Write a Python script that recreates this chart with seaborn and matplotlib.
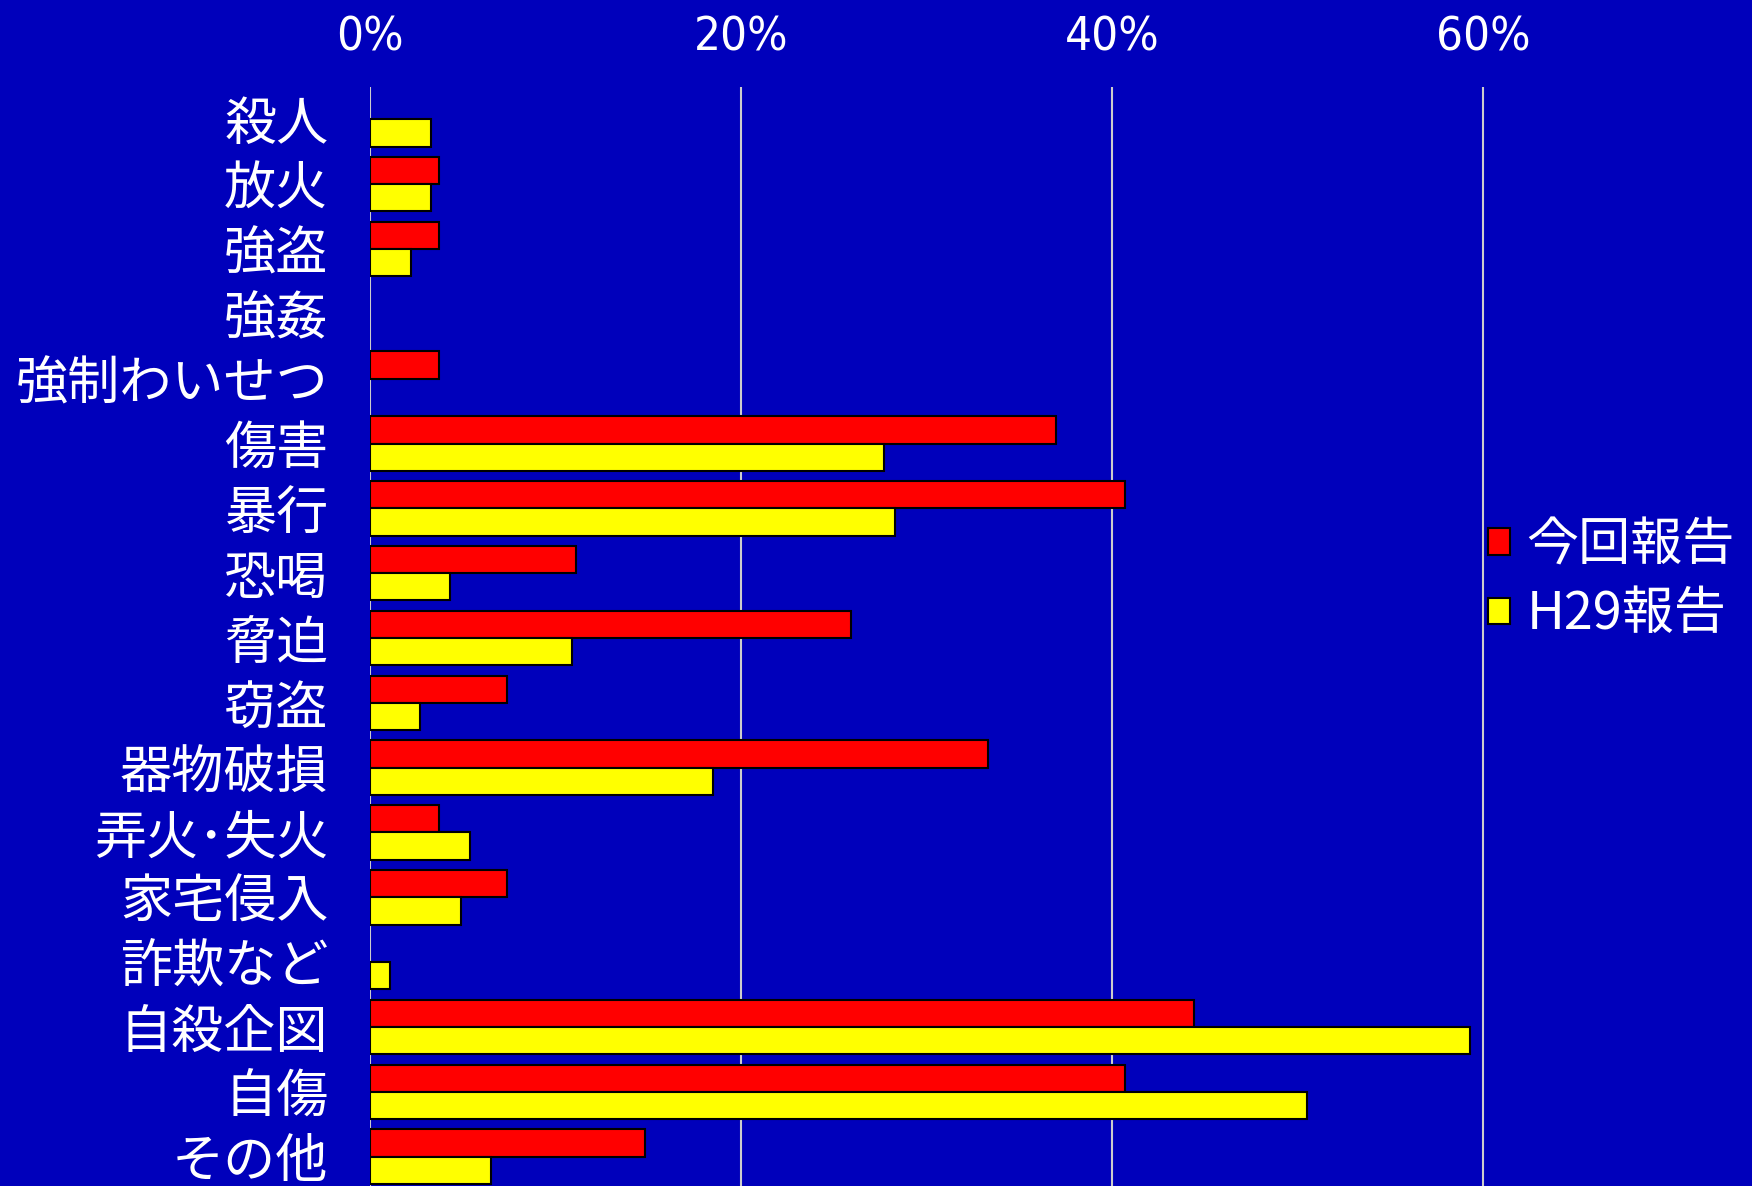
import matplotlib
matplotlib.use("Agg")
import matplotlib.pyplot as plt
import seaborn as sns
import pandas as pd
from matplotlib import font_manager

categories = ["殺人", "放火", "強盗", "強姦", "強制わいせつ", "傷害", "暴行", "恐喝",
              "脅迫", "窃盗", "器物破損", "弄火･失火", "家宅侵入", "詐欺など",
              "自殺企図", "自傷", "その他"]
series_names = ["今回報告", "H29報告"]
current = [0, 3.7, 3.7, 0, 3.7, 37.0, 40.7, 11.1, 25.9, 7.4, 33.3, 3.7, 7.4, 0,
           44.4, 40.7, 14.8]
h29 = [3.3, 3.3, 2.2, 0, 0, 27.7, 28.3, 4.3, 10.9, 2.7, 18.5, 5.4, 4.9, 1.1,
       59.3, 50.5, 6.5]
xticks = [0, 20, 40, 60]
xtick_labels = ["0%", "20%", "40%", "60%"]

df = pd.DataFrame({
    "category": categories * 2,
    "series": [series_names[0]] * len(categories) + [series_names[1]] * len(categories),
    "value": current + h29,
})

BG = "#0000BB"
sns.set_theme(style="white")
plt.rcParams["font.family"] = ["Noto Sans CJK JP", "DejaVu Sans"]

fig = plt.figure(figsize=(17.52, 11.86), dpi=100, facecolor=BG)
ax = fig.add_axes([370 / 1752, -3 / 1186, 1116 / 1752, 1 - 87 / 1186 + 3 / 1186])
ax.set_facecolor(BG)

sns.barplot(data=df, x="value", y="category", hue="series", orient="h",
            palette=["#FF0000", "#FFFF00"], hue_order=series_names,
            order=categories, width=0.84, edgecolor="black", linewidth=1.5,
            saturation=1, errorbar=None, ax=ax, zorder=3)

for p in ax.patches:
    if p.get_width() == 0:
        p.set_visible(False)

ax.set_xlim(0, 60.15)
ax.set_ylim(len(categories) - 0.5, -0.5)
ax.set_xticks(xticks)

names = {f.name for f in font_manager.fontManager.ttflist}
narrow = ["DejaVu Sans"]
for cand in ["Liberation Sans Narrow", "DejaVu Sans Condensed"]:
    if cand in names:
        narrow = [cand, "DejaVu Sans"]
        break
ax.set_xticklabels(xtick_labels, color="white", fontsize=34, family=narrow,
                   stretch="condensed")
ax.xaxis.tick_top()
ax.tick_params(axis="x", length=0, pad=19)
ax.tick_params(axis="y", length=0, pad=30)
for lbl in ax.get_yticklabels():
    lbl.set_color("white")
    lbl.set_fontsize(37.5)
ax.set_xlabel("")
ax.set_ylabel("")
for s in ax.spines.values():
    s.set_visible(False)
ax.grid(axis="x", color="#CCCCCC", linewidth=1.5, zorder=0)
ax.grid(axis="y", visible=False)
ax.set_axisbelow(True)

leg = ax.get_legend()
handles = leg.legend_handles
leg.remove()
fig.legend(handles, series_names, loc="center left",
           bbox_to_anchor=(1488 / 1752, 1 - 580 / 1186), frameon=False,
           fontsize=37.5, labelcolor="white", handlelength=0.42, handleheight=0.4,
           handletextpad=0.32, labelspacing=0.3, borderpad=0, borderaxespad=0)

fig.savefig("out.png", dpi=100, facecolor=BG)
